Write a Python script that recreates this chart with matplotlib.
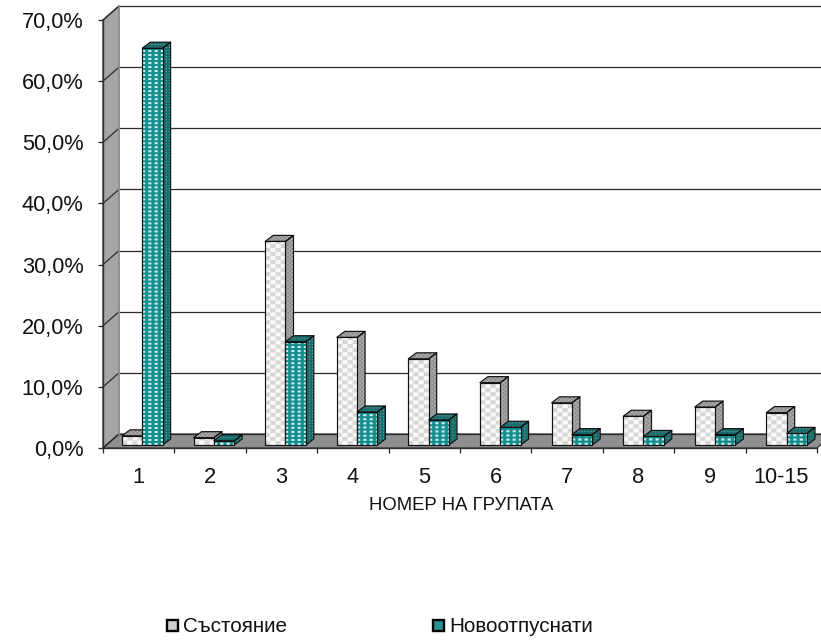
import numpy as np
import matplotlib
matplotlib.use('Agg')
import matplotlib.pyplot as plt
from matplotlib.patches import Polygon, Rectangle

plt.rcParams['font.family'] = ['Liberation Sans', 'DejaVu Sans']

groups = ['1', '2', '3', '4', '5', '6', '7', '8', '9', '10-15']
state = [1.5, 1.2, 33.3, 17.6, 14.1, 10.2, 6.9, 4.7, 6.2, 5.3]
released = [64.9, 0.7, 16.9, 5.4, 4.1, 2.9, 1.7, 1.4, 1.7, 1.9]
y_ticks = [0, 10, 20, 30, 40, 50, 60, 70]
y_labels = ['0,0%', '10,0%', '20,0%', '30,0%', '40,0%', '50,0%', '60,0%', '70,0%']
legend_names = ['Състояние', 'Новоотпуснати']

W, H = 821, 641
X0, X1 = 103, 817
Y0, Y70 = 448, 20
px_x = 10 / (X1 - X0)
px_y = 70 / (Y0 - Y70)

fig = plt.figure(figsize=(W / 100, H / 100), dpi=100)
ax = fig.add_axes([X0 / W, 1 - Y0 / H, (X1 - X0) / W, (Y0 - Y70) / H])
ax.set_xlim(0, 10)
ax.set_ylim(0, 70)
ax.patch.set_visible(False)
for s in ax.spines.values():
    s.set_visible(False)


def shift(x, y, dx, dy):
    # move a data point by a number of pixels (oblique 3D look)
    return x + dx * px_x, y + dy * px_y


def pattern(kind, w, h):
    # small repeating bitmap for the bar faces
    h, w = max(int(h), 1), max(int(w), 1)
    yy, xx = np.mgrid[0:h, 0:w]
    img = np.ones((h, w, 3))
    if kind == 'check':
        mask = ((xx // 5 + yy // 4) % 2) == 0
        img[:] = (0.98, 0.98, 0.98)
        img[mask] = (0.84, 0.84, 0.84)
    elif kind == 'check_dark':
        mask = ((xx // 2 + yy // 2) % 2) == 0
        img[:] = (0.68, 0.68, 0.68)
        img[mask] = (0.54, 0.54, 0.54)
    elif kind == 'dots':
        mask = (xx % 6 < 3) & (yy % 4 < 2)
        img[:] = (0.08, 0.56, 0.56)
        img[mask] = (0.80, 0.93, 0.93)
    else:
        mask = (xx % 3 == 0) & (yy % 3 == 0)
        img[:] = (0.10, 0.42, 0.42)
        img[mask] = (0.45, 0.68, 0.68)
    return img


def textured(pts, kind, z):
    pts = np.array(pts)
    poly = Polygon(pts, closed=True, facecolor='none', edgecolor='#111111',
                   linewidth=0.85, zorder=z + 0.1, clip_on=False, joinstyle='round')
    ax.add_patch(poly)
    x0, x1 = pts[:, 0].min(), pts[:, 0].max()
    y0, y1 = pts[:, 1].min(), pts[:, 1].max()
    img = pattern(kind, (x1 - x0) / px_x, (y1 - y0) / px_y)
    im = ax.imshow(img, extent=(x0, x1, y0, y1), origin='lower', aspect='auto',
                   interpolation='bilinear', zorder=z, clip_on=True)
    clip = Polygon(pts, closed=True, transform=ax.transData)
    im.set_clip_path(clip)


def bar3d(x, width, value, front, side, z):
    bx0, by0 = shift(x, 0, 3, 3)
    bx1 = bx0 + width
    by1 = by0 + value
    d = (8, 6)
    a = shift(bx1, by0, *d)
    b = shift(bx1, by1, *d)
    c = shift(bx0, by1, *d)
    textured([(bx1, by0), (bx1, by1), b, a], side, z)
    textured([(bx0, by1), (bx1, by1), b, c], side, z)
    textured([(bx0, by0), (bx1, by0), (bx1, by1), (bx0, by1)], front, z + 0.2)


BD = (16, 14)
bx, by = shift(0, 0, *BD)
top_x, top_y = shift(10, 70, *BD)

# side wall and floor
ax.add_patch(Polygon([(0, 0), (0, 70), (bx, 70 + BD[1] * px_y), (bx, by)], closed=True,
                     facecolor='#a6a6a6', edgecolor='#333333', linewidth=0.9,
                     zorder=1, clip_on=False))
ax.add_patch(Polygon([(0, 0), (10, 0), (top_x, by), (bx, by)], closed=True,
                     facecolor='#8f8f8f', edgecolor='#333333', linewidth=0.9,
                     zorder=1, clip_on=False))

# gridlines on the back wall and their slanted part on the side wall
for t in y_ticks:
    gx0, gy0 = shift(0, t, *BD)
    gx1, gy1 = shift(10, t, *BD)
    col = '#2a2a2a'
    ax.plot([gx0, gx1], [gy0, gy1], color=col, lw=0.9, zorder=1.5, clip_on=False)
    ax.plot([0, gx0], [t, gy0], color=col, lw=0.9, zorder=1.5, clip_on=False)
ax.plot([bx, bx], [by, 70 + BD[1] * px_y], color='#999999', lw=1.2, zorder=1.5, clip_on=False)

# bars, far ones don't overlap so plain order is fine
bar_w = 20.3 * px_x
for i in range(len(groups)):
    left = i + 0.224 + i * 0.0028
    bar3d(left, bar_w, state[i], 'check', 'check_dark', 3 + i)
    bar3d(left + bar_w, bar_w, released[i], 'dots', 'dots_dark', 3.5 + i)

ax.set_xlim(0, 10)
ax.set_ylim(0, 70)

# axes and ticks
ax.set_yticks(y_ticks)
ax.set_yticklabels(y_labels, fontsize=15.7, color='#111111')
ax.set_xticks(np.arange(0, 11))
ax.set_xticklabels([])
ax.tick_params(axis='y', length=3.6, width=0.9, pad=10.5, color='#222222')
ax.tick_params(axis='x', length=3.6, width=0.9, color='#222222')
for i, g in enumerate(groups):
    ax.annotate(g, (i + 0.5, 0), xytext=(0, -35), textcoords='offset pixels', ha='center',
                va='baseline', fontsize=15.7, color='#111111', annotation_clip=False)
ax.plot([0, 10], [0, 0], color='#333333', lw=1.0, zorder=2, clip_on=False)
ax.plot([0, 0], [0, 70], color='#333333', lw=1.0, zorder=2, clip_on=False)

fig.text(461 / W, 1 - 506 / H, 'НОМЕР НА ГРУПАТА', ha='center', va='center', fontsize=13.3,
         color='#111111')

# legend
leg_x = [166, 432]
for lx, name, kind in zip(leg_x, legend_names, ['check', 'dots']):
    fig.add_artist(Rectangle(((lx + 1) / W, 1 - 631 / H), 11 / W, 11 / H, transform=fig.transFigure,
                             facecolor='#d0d0d0' if kind == 'check' else '#2a8f8f',
                             edgecolor='black', linewidth=1.7))
    fig.text((lx + 17) / W, 1 - 626 / H, name, ha='left', va='center', fontsize=14.9,
             color='#111111')

fig.savefig('out.png', dpi=100)
